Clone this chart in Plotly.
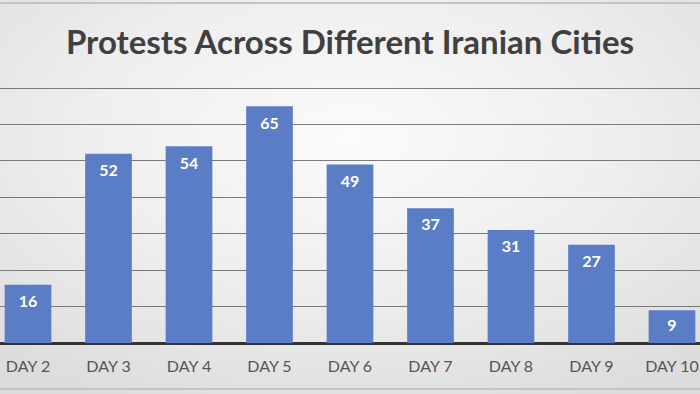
import base64
import plotly.graph_objects as go

days = ["DAY 2", "DAY 3", "DAY 4", "DAY 5", "DAY 6", "DAY 7", "DAY 8", "DAY 9", "DAY 10"]
protests = [16, 52, 54, 65, 49, 37, 31, 27, 9]
title_text = "Protests Across Different Iranian Cities"

FONT = "Lato, Open Sans, sans-serif"

# soft radial background like the slide
svg = (
    '<svg xmlns="http://www.w3.org/2000/svg" width="700" height="394" viewBox="0 0 700 394" preserveAspectRatio="none">'
    '<defs><radialGradient id="g" cx="0.5" cy="0.35" r="0.75">'
    '<stop offset="0" stop-color="#fbfbfb"/><stop offset="0.55" stop-color="#ededed"/>'
    '<stop offset="1" stop-color="#dcdcdc"/></radialGradient></defs>'
    '<rect width="700" height="394" fill="url(#g)"/></svg>'
)
bg_uri = "data:image/svg+xml;base64," + base64.b64encode(svg.encode()).decode()

T, B = 87, 51
plot_h = 394 - T - B

fig = go.Figure()
fig.add_trace(
    go.Bar(
        x=days,
        y=protests,
        width=0.58,
        marker=dict(color="#5b7dc6", line=dict(width=0)),
        hoverinfo="x+y",
    )
)
fig.add_trace(
    go.Scatter(
        x=days,
        y=[max(v - 5, v / 2) for v in protests],
        mode="text",
        text=[str(v) for v in protests],
        textposition="middle center",
        textfont=dict(family=FONT, size=16, color="white", weight="bold"),
        hoverinfo="skip",
    )
)

fig.update_layout(
    width=700,
    height=394,
    margin=dict(l=0, r=0, t=T, b=B, autoexpand=False),
    paper_bgcolor="#ececec",
    plot_bgcolor="rgba(0,0,0,0)",
    showlegend=False,
    title=dict(
        text=title_text,
        x=0.5,
        xanchor="center",
        y=1 - 42 / 394,
        yanchor="middle",
        font=dict(family=FONT, size=33, color="#404040", weight="bold"),
    ),
    xaxis=dict(
        range=[-0.348, 8.348],
        showgrid=False,
        showline=False,
        ticks="",
        automargin=False,
        ticklabelstandoff=12,
        tickfont=dict(family=FONT, size=16, color="#555555"),
        fixedrange=True,
    ),
    yaxis=dict(
        range=[0, 70.3],
        dtick=10,
        showgrid=True,
        gridcolor="#7a7a7a",
        gridwidth=1.3,
        showticklabels=False,
        automargin=False,
        zeroline=True,
        zerolinecolor="#333333",
        zerolinewidth=2.5,
        fixedrange=True,
    ),
    images=[
        dict(
            source=bg_uri,
            xref="paper",
            yref="paper",
            x=0,
            y=(394 - B) / plot_h,
            sizex=1,
            sizey=394 / plot_h,
            xanchor="left",
            yanchor="top",
            sizing="stretch",
            layer="below",
        )
    ],
    shapes=[
        dict(type="line", xref="paper", yref="paper", x0=0, x1=1,
             y0=(394 - B - 3) / plot_h, y1=(394 - B - 3) / plot_h,
             line=dict(color="#c4c4c4", width=2)),
        dict(type="line", xref="paper", yref="paper", x0=0, x1=1,
             y0=(394 - B - 389) / plot_h, y1=(394 - B - 389) / plot_h,
             line=dict(color="#c4c4c4", width=2)),
    ],
)

fig.write_html(
    "out.html",
    config={"displayModeBar": False},
    post_script="document.body.style.margin='0';document.body.style.overflow='hidden';",
)
